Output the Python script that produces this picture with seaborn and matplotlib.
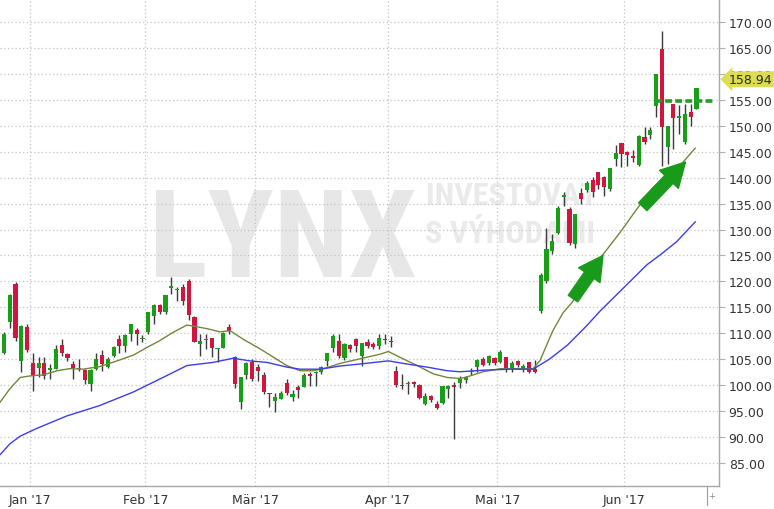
import numpy as np
import pandas as pd
import matplotlib
matplotlib.use("Agg")
import matplotlib.pyplot as plt
from matplotlib.lines import Line2D
import seaborn as sns

# ---------------- data (daily candles, index 0 = 23 Dec 2016) ----------------
opens = [106.3, 112.1, 119.5, 104.7, 111.2, 104.2, 103.4, 104.2, 103.0, 103.2,
         107.8, 106.0, 104.1, 103.4, 102.9, 100.2, 103.1, 105.8, 103.6, 105.6,
         108.9, 107.6, 109.9, 110.7, 108.9, 110.3, 113.4, 115.5, 114.1, 118.8,
         118.3, 118.9, 120.0, 113.2, 107.9, 108.7, 109.2, 106.9, 107.2, 111.3,
         105.4, 96.7, 102.0, 104.5, 103.6, 102.0, 98.6, 97.0, 97.4, 100.4,
         97.8, 99.6, 99.7, 102.2, 102.3, 102.6, 104.6, 107.1, 108.6, 105.2,
         107.8, 108.9, 105.6, 108.4, 108.0, 107.5, 108.9, 108.6, 102.8, 100.0,
         100.2, 100.7, 100.1, 96.4, 98.0, 96.4, 96.6, 99.3, 100.0, 100.4,
         101.0, 102.5, 103.5, 105.1, 104.2, 105.3, 104.5, 105.4, 103.2, 104.6,
         103.3, 104.4, 103.2, 114.3, 120.0, 125.8, 129.3, 136.3, 134.0, 127.2,
         137.1, 137.6, 139.6, 141.0, 140.1, 137.8, 143.6, 146.6, 145.0, 144.2,
         142.4, 147.9, 148.2, 153.7, 164.7, 145.8, 154.1, 151.5, 146.9, 152.7,
         153.3]
highs = [110.2, 117.5, 119.8, 111.6, 111.8, 106.3, 105.4, 105.4, 104.1, 107.8,
         109.0, 106.3, 104.7, 105.0, 103.1, 103.1, 106.3, 106.7, 105.4, 107.6,
         109.6, 109.9, 111.8, 111.0, 109.7, 114.2, 115.7, 115.7, 117.3, 120.8,
         118.9, 119.5, 120.5, 113.4, 109.9, 109.9, 109.2, 107.1, 110.2, 111.8,
         105.6, 101.5, 104.5, 105.0, 104.1, 102.5, 98.6, 98.6, 98.9, 101.2,
         99.1, 100.0, 102.3, 102.5, 102.8, 103.7, 106.2, 109.9, 109.9, 108.2,
         108.0, 109.2, 108.1, 108.9, 108.4, 109.9, 109.9, 109.4, 103.7, 102.1,
         100.8, 100.8, 100.2, 98.6, 98.1, 97.0, 99.8, 100.1, 100.6, 101.8,
         101.8, 103.3, 105.1, 105.4, 105.9, 105.4, 106.7, 105.4, 104.6, 104.8,
         104.1, 104.5, 104.8, 121.7, 130.3, 129.2, 134.5, 137.2, 134.3, 133.0,
         138.0, 139.3, 140.1, 141.0, 140.3, 141.8, 146.3, 146.6, 145.2, 145.4,
         148.3, 149.7, 149.7, 159.9, 168.3, 150.0, 154.1, 153.9, 154.1, 154.1,
         157.3]
lows = [106.0, 111.0, 108.6, 102.5, 106.5, 98.9, 101.5, 101.2, 101.2, 103.1,
        105.7, 104.7, 101.3, 102.8, 100.2, 98.9, 103.0, 102.8, 103.4, 105.4,
        106.3, 106.5, 108.6, 107.8, 108.3, 109.9, 111.8, 113.8, 113.8, 117.6,
        116.3, 115.4, 112.5, 108.3, 105.7, 107.0, 105.4, 104.5, 107.2, 109.8,
        99.4, 95.4, 101.2, 100.9, 100.9, 98.3, 95.9, 94.9, 97.3, 98.1,
        97.0, 97.6, 99.6, 99.9, 99.9, 102.2, 103.8, 106.4, 105.2, 104.9,
        106.4, 106.4, 103.8, 107.1, 107.0, 107.0, 108.0, 107.3, 99.7, 99.2,
        98.3, 99.7, 97.3, 96.2, 96.8, 95.4, 96.4, 97.6, 89.6, 99.4,
        100.5, 101.9, 102.6, 103.8, 104.0, 104.0, 104.2, 102.6, 102.5, 103.5,
        102.6, 102.3, 102.3, 114.0, 119.7, 125.3, 129.1, 134.6, 127.0, 126.5,
        135.0, 137.3, 136.2, 137.8, 136.5, 137.5, 142.3, 142.0, 142.3, 143.0,
        142.3, 146.5, 147.4, 151.6, 142.3, 142.6, 145.5, 148.4, 146.5, 150.0,
        153.2]
closes = [109.9, 117.3, 109.2, 111.4, 106.7, 101.8, 104.2, 101.8, 103.3, 107.0,
          106.3, 105.2, 103.3, 103.1, 101.1, 103.0, 105.0, 104.1, 105.0, 107.3,
          107.6, 109.7, 111.8, 109.9, 109.1, 114.1, 115.5, 114.2, 117.3, 119.0,
          118.5, 116.3, 113.6, 108.3, 108.6, 108.9, 107.1, 107.1, 110.0, 110.5,
          100.2, 101.5, 104.3, 101.3, 102.8, 98.7, 98.3, 97.8, 98.6, 98.5,
          98.4, 99.1, 102.0, 101.7, 102.6, 103.6, 106.2, 109.4, 105.6, 108.0,
          106.9, 107.5, 108.1, 107.6, 107.3, 109.2, 108.7, 108.3, 100.1, 99.8,
          100.5, 100.2, 97.6, 98.0, 97.2, 95.6, 99.8, 99.8, 99.7, 101.3,
          101.6, 102.8, 104.8, 104.0, 105.6, 104.2, 106.5, 103.3, 104.2, 104.0,
          103.8, 102.6, 102.6, 121.2, 126.3, 127.7, 134.2, 136.6, 127.5, 133.0,
          135.9, 138.9, 137.2, 138.6, 138.1, 141.8, 144.8, 144.5, 144.4, 143.7,
          148.0, 146.9, 149.2, 159.9, 149.7, 150.0, 151.5, 151.8, 152.3, 151.6,
          157.3]

month_labels = ["Jan '17", "Feb '17", "Mär '17", "Apr '17", "Mai '17", "Jun '17"]
month_start_idx = [5, 25, 44, 67, 86, 108]

ma_fast_idx = [-0.7, 1.0, 2.8, 4.5, 6.8, 9.2, 11.4, 13.7, 16.6, 19.6, 22.4, 24.8,
               27.0, 29.3, 31.7, 32.8, 35.2, 37.4, 39.2, 41.4, 44.4, 49.0, 51.3,
               53.6, 56.0, 58.2, 61.7, 65.2, 66.6, 68.6, 71.6, 74.4, 76.8, 79.0,
               80.2, 83.0, 86.0, 91.7, 92.9, 95.1, 96.9, 98.4, 103.6, 106.8,
               109.7, 112.5, 117.7, 119.8]
ma_fast = [96.7, 99.3, 101.5, 101.8, 102.0, 102.8, 103.2, 103.1, 103.6, 104.7,
           105.8, 107.3, 108.6, 110.2, 111.6, 111.4, 110.9, 110.3, 110.5, 108.9,
           107.0, 103.8, 102.8, 102.8, 103.4, 104.2, 105.1, 106.0, 106.5, 105.4,
           103.8, 102.2, 101.5, 101.3, 101.6, 102.6, 103.2, 103.2, 104.8, 110.5,
           114.0, 115.9, 124.9, 129.5, 134.0, 138.1, 143.0, 145.7]

ma_slow_idx = [-0.7, 1.0, 2.8, 5.7, 10.9, 16.6, 22.4, 27.0, 31.7, 36.2, 39.7,
               42.6, 45.6, 49.0, 51.3, 54.8, 58.2, 61.7, 66.6, 69.8, 73.3, 76.8,
               79.0, 83.0, 87.7, 91.7, 94.6, 97.6, 101.0, 103.3, 111.4, 113.7,
               116.6, 119.8]
ma_slow = [86.6, 88.7, 90.2, 91.7, 94.1, 96.1, 98.7, 101.2, 103.8, 104.4, 105.2,
           104.7, 104.4, 103.5, 103.1, 103.1, 103.7, 104.1, 104.7, 104.1, 103.5,
           102.8, 102.6, 102.9, 103.1, 103.1, 105.1, 107.7, 111.5, 114.3, 123.2,
           125.1, 127.7, 131.5]

y_ticks = [85, 90, 95, 100, 105, 110, 115, 120, 125, 130, 135, 140, 145, 150,
           155, 160, 165, 170]
last_price = 158.94
level_price = 154.8
level_span = [112.8, 122.9]
arrow1 = [(98.6, 116.7), (103.8, 125.0)]
arrow2 = [(110.7, 134.4), (118.1, 143.0)]

# ---------------- styling ----------------
sns.set_style("white")
plt.rcParams['font.family'] = ['DejaVu Sans']

GREEN = "#17a017"
RED = "#d3153d"
WICK = "#3a3a3a"
OLIVE = "#71883a"
BLUE = "#3d3de6"
GRID = "#c4c4c4"
WM_FAMILY = ["Roboto Condensed", "Liberation Sans Narrow", "Roboto", "DejaVu Sans"]

fig = plt.figure(figsize=(7.74, 5.10), dpi=100)
ax = fig.add_axes([0.0, 23 / 510, 719 / 774, 487 / 510])

df = pd.DataFrame({"open": opens, "high": highs, "low": lows, "close": closes})
df["idx"] = np.arange(len(df))
df["up"] = df["close"] >= df["open"]
df["bottom"] = df[["open", "close"]].min(axis=1)
df["height"] = (df["close"] - df["open"]).abs().clip(lower=0.3)

# watermark
ax.text(0.394, 0.431, "LYNX", transform=ax.transAxes, ha="center", va="baseline",
        fontsize=88, fontweight="bold", color="#e7e7e7", zorder=0.2,
        family=WM_FAMILY)
ax.text(0.5925, 0.579, "INVESTOVAT", transform=ax.transAxes, ha="left",
        va="baseline", fontsize=23, fontweight="bold", color="#eaeaea", zorder=0.2,
        family=WM_FAMILY)
ax.text(0.5910, 0.501, "S VÝHODAMI", transform=ax.transAxes, ha="left",
        va="baseline", fontsize=23, fontweight="bold", color="#eaeaea", zorder=0.2,
        family=WM_FAMILY)

# candles
ax.vlines(df["idx"], df["low"], df["high"], color=WICK, lw=1.0, zorder=2)
ax.bar(df["idx"], df["height"], bottom=df["bottom"], width=0.72,
       color=np.where(df["up"], GREEN, RED), linewidth=0, zorder=3)

# moving averages
sns.lineplot(x=ma_fast_idx, y=ma_fast, ax=ax, color=OLIVE, lw=1.0, zorder=4,
             sort=True, estimator=None)
sns.lineplot(x=ma_slow_idx, y=ma_slow, ax=ax, color=BLUE, lw=1.0, zorder=4,
             sort=True, estimator=None)

# level line
ax.hlines(level_price, level_span[0], level_span[1], colors="#2a9a2a", lw=2.6,
          linestyles=(0, (1.9, 0.9)), zorder=5)

# arrows
for tail, tip in (arrow1, arrow2):
    ax.annotate("", xy=tip, xytext=tail,
                arrowprops=dict(arrowstyle="simple,head_length=1.15,head_width=1.25,tail_width=0.55",
                                color="#1a9a1a", mutation_scale=15, shrinkA=0, shrinkB=0),
                zorder=6)

# axes
ax.set_xlim(-0.69, 123.9)
ax.set_ylim(80.6, 174.4)
ax.set_xticks([m - 0.5 for m in month_start_idx])
ax.set_xticklabels(month_labels)
ax.set_yticks(y_ticks)
ax.set_yticklabels([f"{v:.2f}" for v in y_ticks])
ax.yaxis.tick_right()
ax.tick_params(axis="y", labelsize=9, labelcolor="#333333", length=4,
               color="#b0b0b0", pad=3)
ax.tick_params(axis="x", labelsize=9, labelcolor="#333333", length=0, pad=5)
ax.grid(True, ls=(0, (1, 2)), color=GRID, lw=0.9)
ax.set_axisbelow(True)
for s in ("left", "top"):
    ax.spines[s].set_visible(False)
for s in ("right", "bottom"):
    ax.spines[s].set_color("#a8a8a8")
    ax.spines[s].set_linewidth(1.0)
ax.set_xlabel("")
ax.set_ylabel("")

# last price label
ax.annotate(f"{last_price:.2f}", xy=(1.0, last_price), xycoords=("axes fraction", "data"),
            xytext=(7, 0), textcoords="offset points", ha="left", va="center",
            fontsize=9, color="#2a2a2a", annotation_clip=False, zorder=10,
            bbox=dict(boxstyle="larrow,pad=0.12", fc="#dcdc55", ec="none"))

# small scroll marker at bottom right
fig.add_artist(Line2D([707 / 774, 707 / 774], [1 - 488 / 510, 1 - 506 / 510],
                      color="#9a9a9a", lw=0.8))
fig.text(712 / 774, 1 - 497 / 510, "+", fontsize=6, color="#888888",
         ha="center", va="center")

fig.savefig("out.png", dpi=100)
